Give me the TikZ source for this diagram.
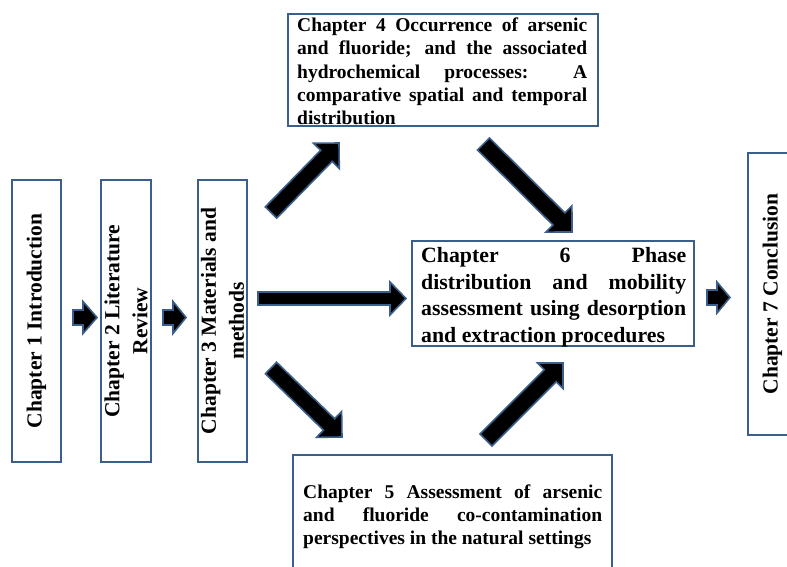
\documentclass[tikz,border=0pt]{standalone}
\usepackage{fontspec}
\setmainfont{Liberation Serif}
\usetikzlibrary{calc}
\definecolor{bord}{HTML}{3A5F8B}
\tikzset{
  chbox/.style={draw=bord, line width=2pt, fill=white, inner sep=0pt},
  vbox/.style={chbox, rotate=90, align=center, font=\bfseries\fontsize{21.5}{28}\selectfont},
  htext/.style={anchor=base west, inner sep=0pt},
  barrow/.style={fill=black, draw=bord, line width=1.6pt, line join=miter},
}
\newcommand\blockarrow[5]{%
  \path ($(#2)!#5!(#1)$) coordinate (ba-c);
  \draw[barrow] ($(#1)!#3!90:(#2)$) -- ($(ba-c)!#3!90:(#2)$) -- ($(ba-c)!#4!90:(#2)$) -- (#2)
    -- ($(ba-c)!#4!-90:(#2)$) -- ($(ba-c)!#3!-90:(#2)$) -- ($(#1)!#3!-90:(#2)$) -- cycle;}
\begin{document}
\begin{tikzpicture}[x=1pt,y=-1pt]
\useasboundingbox (0,0) rectangle (787,567);
\clip (0,0) rectangle (787,567);
\fill[white] (0,0) rectangle (787,567);

% vertical boxes
\node[vbox, minimum width=282, minimum height=49] (b1) at (36.5,321) {Chapter 1 Introduction};
\node[vbox, minimum width=282, minimum height=50] (b2) at (126,321) {Chapter 2 Literature\\Review};
\node[vbox, minimum width=282, minimum height=49] (b3) at (222.5,321) {Chapter 3 Materials and\\methods};
\node[vbox, minimum width=282, minimum height=49] (b7) at (772.5,294) {Chapter 7 Conclusion};

% horizontal boxes
\node[chbox, minimum width=310, minimum height=112] (b4) at (443,70) {};
\node[chbox, minimum width=282, minimum height=105] (b6) at (553,293.5) {};
\node[chbox, minimum width=319, minimum height=150] (b5) at (452.5,530) {};

\node[htext] (t4) at (297,31.7) {\parbox[t]{290pt}{\bfseries\fontsize{19.5}{23.3}\selectfont\hyphenpenalty=10000
Chapter 4 Occurrence of arsenic\linebreak and fluoride; and the associated\linebreak hydrochemical processes: A\linebreak comparative spatial and temporal\linebreak distribution}};
\node[htext] (t6) at (421,262.5) {\parbox[t]{265pt}{\bfseries\fontsize{21.8}{26.7}\selectfont\hyphenpenalty=10000
Chapter 6 Phase\linebreak distribution and mobility\linebreak assessment using desorption\linebreak and extraction procedures}};
\node[htext] (t5) at (303,498) {\parbox[t]{299pt}{\bfseries\fontsize{19.5}{23.3}\selectfont\hyphenpenalty=10000
Chapter 5 Assessment of arsenic\linebreak and fluoride co-contamination\linebreak perspectives in the natural settings}};

% arrow end points
\coordinate (a12s) at (73,317.5);  \coordinate (a12e) at (97,317.5);
\coordinate (a23s) at (163,317.5); \coordinate (a23e) at (186,317.5);
\coordinate (a67s) at (707,297.5); \coordinate (a67e) at (730,297.5);
\coordinate (a36s) at (258,298.5); \coordinate (a36e) at (406,298.5);
\coordinate (a34s) at (271,212.5); \coordinate (a34e) at (339,143);
\coordinate (a46s) at (483.5,144); \coordinate (a46e) at (572,232);
\coordinate (a35s) at (271,368);   \coordinate (a35e) at (342,437);
\coordinate (a56s) at (486,440);   \coordinate (a56e) at (563,363);

\blockarrow{a12s}{a12e}{7.5pt}{16pt}{14pt}
\blockarrow{a23s}{a23e}{7.5pt}{16pt}{13pt}
\blockarrow{a67s}{a67e}{7.5pt}{15.5pt}{13pt}
\blockarrow{a36s}{a36e}{6.5pt}{16.5pt}{16pt}
\blockarrow{a34s}{a34e}{8pt}{18pt}{18pt}
\blockarrow{a46s}{a46e}{8.5pt}{18.5pt}{18.5pt}
\blockarrow{a35s}{a35e}{8pt}{18pt}{18pt}
\blockarrow{a56s}{a56e}{8.5pt}{18pt}{18pt}
\end{tikzpicture}
\end{document}
